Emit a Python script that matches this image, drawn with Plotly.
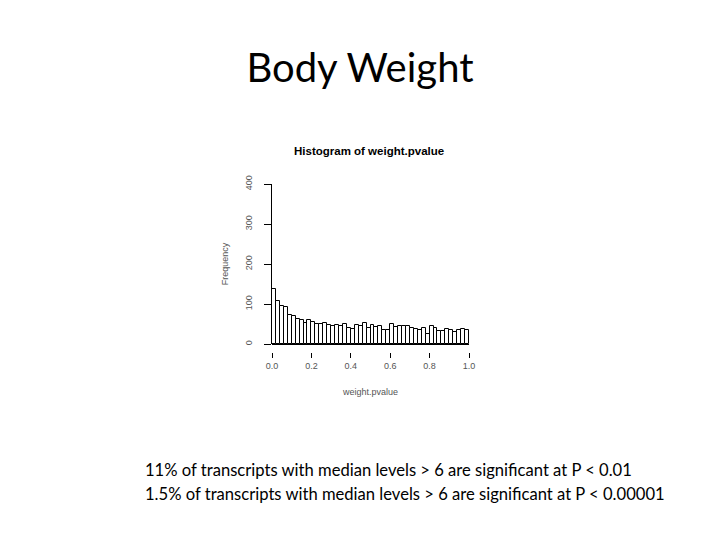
import plotly.graph_objects as go

# histogram of weight.pvalue, 50 bins of width 0.02 (counts)
bin_starts = [round(i * 0.02, 2) for i in range(50)]
counts = [137, 107, 96, 93, 73, 69, 63, 60, 53, 60,
          55, 49, 49, 52, 47, 45, 48, 44, 49, 40,
          38, 48, 46, 52, 40, 48, 42, 44, 34, 35,
          50, 42, 46, 46, 45, 40, 38, 36, 40, 26,
          44, 40, 32, 32, 38, 36, 30, 34, 38, 36]

x_ticks = [0.0, 0.2, 0.4, 0.6, 0.8, 1.0]
y_ticks = [0, 100, 200, 300, 400]

slide_title = "Body Weight"
hist_title = "Histogram of weight.pvalue"
notes = [
    "11% of transcripts with median levels > 6 are significant at P < 0.01",
    "1.5% of transcripts with median levels > 6 are significant at P < 0.00001",
]

centers = [s + 0.01 for s in bin_starts]

fig = go.Figure()
fig.add_bar(
    x=centers,
    y=counts,
    width=0.02,
    marker=dict(color="white", line=dict(color="black", width=1)),
    hoverinfo="x+y",
)

r_font = dict(family="Liberation Sans, Arial", size=9, color="#555")

# the page adds an 8px body margin, so everything is laid out 8px up/left
fig.update_layout(
    width=720,
    height=540,
    margin=dict(l=264, r=259, t=176, b=196),
    paper_bgcolor="white",
    plot_bgcolor="white",
    showlegend=False,
    bargap=0,
    title=dict(
        text=slide_title,
        x=352 / 720,
        xanchor="center",
        y=1 - 60 / 540,
        yanchor="middle",
        font=dict(family="Lato, Open Sans", size=40, color="black"),
    ),
)

fig.update_xaxes(
    range=[0, 1],
    anchor="free",
    position=0,
    automargin=False,
    tickvals=x_ticks,
    ticktext=["%.1f" % v for v in x_ticks],
    ticks="outside",
    ticklen=5,
    tickcolor="black",
    showline=False,
    showgrid=False,
    zeroline=False,
    tickfont=r_font,
    title=dict(text="weight.pvalue", font=r_font, standoff=18),
)
fig.update_yaxes(
    range=[0, 400],
    domain=[8 / 168, 1],
    automargin=False,
    tickvals=y_ticks,
    ticks="outside",
    ticklen=7,
    tickcolor="black",
    showline=True,
    linecolor="black",
    linewidth=1,
    showgrid=False,
    zeroline=True,
    zerolinecolor="black",
    zerolinewidth=1,
    tickangle=-90,
    ticklabelstandoff=8,
    tickfont=r_font,
    title=dict(text="Frequency", font=r_font, standoff=14),
)

fig.add_annotation(
    text="<b>%s</b>" % hist_title,
    xref="paper", yref="paper",
    x=(369 - 272) / 197, y=(352 - 151) / 168,
    xanchor="center", yanchor="middle",
    showarrow=False,
    font=dict(family="Liberation Sans, Arial", size=11.5, color="black"),
)

for i, line in enumerate(notes):
    fig.add_annotation(
        text=line,
        xref="paper", yref="paper",
        x=(143 - 272) / 197, y=(352 - (470 + 24 * i)) / 168,
        xanchor="left", yanchor="middle",
        showarrow=False,
        font=dict(family="Lato, Open Sans", size=16.6, color="black"),
    )

fig.write_html("out.html")
